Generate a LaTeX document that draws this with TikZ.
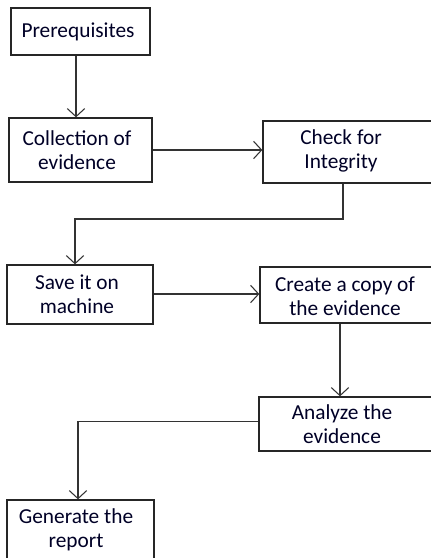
\documentclass[tikz,border=0pt]{standalone}
\usepackage{fontspec}
\setmainfont{Carlito}
\usetikzlibrary{arrows.meta,positioning,calc}
\begin{document}
\begin{tikzpicture}[x=0.75pt,y=-0.75pt,
  box/.style={draw=black!85,line width=1pt,rectangle,inner sep=0pt},
  txt/.style={align=center,font=\fontsize{16}{18}\selectfont,text=black!85!blue,inner sep=0pt},
  arr/.style={draw=black!80,line width=0.9pt,-{Straight Barb[length=6pt,width=13pt,line width=0.8pt]}},
  ln/.style={draw=black!80,line width=0.9pt}]
\useasboundingbox (0,0) rectangle (431,558);
\clip (0,0) rectangle (431,558);
% boxes
\node[box,minimum width=139*0.75pt,minimum height=47*0.75pt] (prereq) at (80.5,31.5) {};
\node[box,minimum width=143*0.75pt,minimum height=64*0.75pt] (coll) at (80.5,150) {};
\node[box,minimum width=190*0.75pt,minimum height=62*0.75pt] (check) at (358,152) {};
\node[box,minimum width=146*0.75pt,minimum height=59*0.75pt] (save) at (80,294.5) {};
\node[box,minimum width=190*0.75pt,minimum height=56*0.75pt] (copy) at (355,295) {};
\node[box,minimum width=190*0.75pt,minimum height=54*0.75pt] (anal) at (354,424) {};
\node[box,minimum width=147*0.75pt,minimum height=70*0.75pt] (gen) at (80.5,535) {};
% texts
\node[txt] (t1) at (78,32) {Prerequisites};
\node[txt] (t2) at (77,150) {Collection of\\evidence};
\node[txt] (t3) at (341,151) {Check for\\Integrity};
\node[txt] (t4) at (77,294) {Save it on\\machine};
\node[txt] (t5) at (345,296) {Create a copy of\\the evidence};
\node[txt] (t6) at (342,424) {Analyze the\\evidence};
\node[txt] (t7) at (76,530) {Generate the\\report};
% helper coordinates
\coordinate (x1) at (76,0);
\coordinate (x3) at (343,0);
\coordinate (y3) at (0,219);
\coordinate (x3b) at (75,0);
\coordinate (y4) at (0,294);
\coordinate (x5) at (340,0);
\coordinate (y6) at (0,421.5);
\coordinate (x6) at (78,0);
% connectors
\draw[arr] (prereq.south -| x1) -- (coll.north -| x1);
\draw[arr] (coll.east) -- (coll.east -| check.west);
\draw[arr] (check.south -| x3) -- (x3 |- y3) -- (x3b |- y3) -- (save.north -| x3b);
\draw[arr] (save.east |- y4) -- (copy.west |- y4);
\draw[arr] (copy.south -| x5) -- (anal.north -| x5);
\draw[arr] (anal.west |- y6) -- (x6 |- y6) -- (gen.north -| x6);
\end{tikzpicture}
\end{document}
